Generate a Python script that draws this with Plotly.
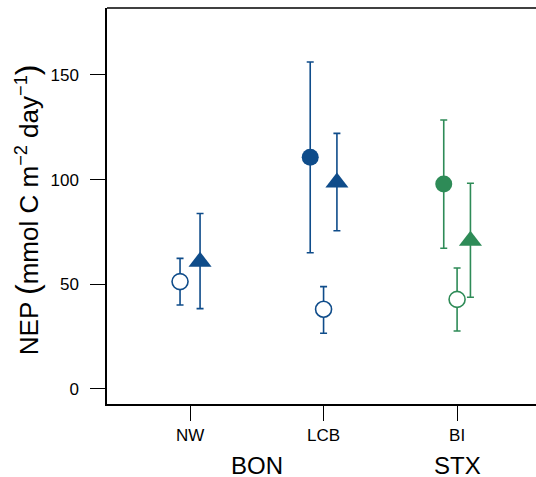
import plotly.graph_objects as go

# ---- data ----
sites = ["NW", "LCB", "BI"]
regions = ["BON", "BON", "STX"]
region_names = ["BON", "STX"]

filled_mean = [None, 110.7, 97.9]
filled_hi = [None, 156.2, 128.5]
filled_lo = [None, 65.1, 67.2]

open_mean = [51.3, 38.1, 42.8]
open_hi = [62.4, 48.9, 57.8]
open_lo = [40.1, 26.6, 27.7]

tri_mean = [60.8, 98.7, 70.8]
tri_hi = [83.8, 122.1, 98.3]
tri_lo = [38.4, 75.6, 43.8]

y_ticks = [0, 50, 100, 150]

# ---- styles ----
region_colors = {"BON": "#0F4C8A", "STX": "#2E8B57"}
FONT = "Liberation Sans, Arial, sans-serif"

series = [
    ("filled", filled_mean, filled_hi, filled_lo),
    ("open", open_mean, open_hi, open_lo),
    ("tri", tri_mean, tri_hi, tri_lo),
]

fig = go.Figure()
for i, site in enumerate(sites):
    col = region_colors[regions[i]]
    has_filled = filled_mean[i] is not None
    offsets = {"filled": -0.1, "open": 0.0, "tri": 0.1} if has_filled else \
              {"filled": 0.0, "open": -0.075, "tri": 0.075}
    for name, mean, hi, lo in series:
        m = mean[i]
        if m is None:
            continue
        if name == "filled":
            marker = dict(symbol="circle", size=17, color=col, line=dict(width=0))
        elif name == "open":
            marker = dict(symbol="circle", size=16, color="white", line=dict(width=1.6, color=col))
        else:
            marker = dict(symbol="triangle-up", size=20, color=col, line=dict(width=0))
        fig.add_trace(go.Scatter(
            x=[i + 1 + offsets[name]], y=[m], mode="markers", marker=marker,
            error_y=dict(type="data", symmetric=False, array=[hi[i] - m],
                         arrayminus=[m - lo[i]], color=col, thickness=1.6, width=3.5),
            showlegend=False, hoverinfo="skip", cliponaxis=False,
        ))

# region labels
region_pos = {}
for i, r in enumerate(regions):
    region_pos.setdefault(r, []).append(i + 1)
for r in region_names:
    xs = region_pos[r]
    fig.add_annotation(x=sum(xs) / len(xs), xref="x", y=-0.155, yref="paper",
                       text=r, showarrow=False, yanchor="middle",
                       font=dict(size=24, color="black", family=FONT))

fig.add_annotation(
    x=-0.186, xref="paper", y=0.49, yref="paper", textangle=-90, showarrow=False,
    text="NEP <span style='font-size:32px'>(</span>mmol C m<sup>−2</sup> day<sup>−1</sup><span style='font-size:32px'>)</span>",
    font=dict(size=26, color="black", family=FONT), xanchor="center", yanchor="middle")

# open-right frame: top border line only
fig.add_shape(type="line", xref="paper", yref="paper", x0=0, x1=1, y0=1, y1=1,
              line=dict(color="black", width=1.5))

fig.update_layout(
    width=536, height=477,
    margin=dict(l=107, r=0, t=8, b=73),
    paper_bgcolor="white", plot_bgcolor="white",
    font=dict(family=FONT, color="black"),
    xaxis=dict(range=[0.378, 3.591], tickmode="array", tickvals=[1, 2, 3], ticktext=sites,
               showline=True, linecolor="black", linewidth=1.5, mirror=False,
               ticks="outside", ticklen=15, tickwidth=1.2, tickcolor="black",
               showgrid=False, zeroline=False, tickfont=dict(size=17)),
    yaxis=dict(range=[-7.17, 182.0], tickmode="array", tickvals=y_ticks,
               showline=True, linecolor="black", linewidth=1.5, mirror=False,
               ticks="outside", ticklen=15, tickwidth=1.2, tickcolor="black",
               showgrid=False, zeroline=False, tickfont=dict(size=17),
               ticklabelstandoff=8),
)

fig.write_html(
    "out.html",
    config={"displayModeBar": False},
    post_script=("document.body.style.margin='0';"
                 "document.body.style.overflow='hidden';"
                 "document.documentElement.style.overflow='hidden';"),
)
